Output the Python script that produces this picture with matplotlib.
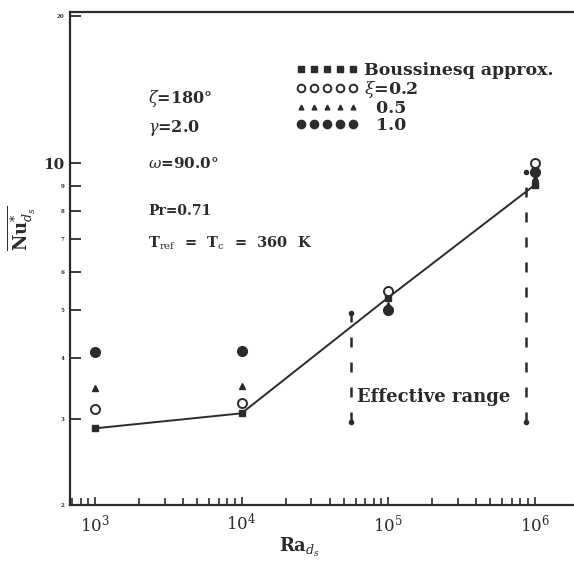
import matplotlib
matplotlib.use("Agg")
import matplotlib.pyplot as plt
from matplotlib.ticker import NullFormatter

# data
ra = [1e3, 1e4, 1e5, 1e6]
nu_bouss = [2.87, 3.08, 5.31, 9.02]
nu_xi02 = [3.14, 3.23, 5.48, 10.0]
nu_xi05 = [3.47, 3.51, 5.14, 9.32]
nu_xi10 = [4.12, 4.14, 5.00, 9.59]

range_ra = [5.6e4, 8.8e5]
range_lo = [2.95, 2.95]
range_hi = [4.94, 9.6]

yticks = [2, 3, 4, 5, 6, 7, 8, 9, 10, 20]
xticks = [1e3, 1e4, 1e5, 1e6]
xtick_labels = ["$10^3$", "$10^4$", "$10^5$", "$10^6$"]

ink = "#2b2b2b"
plt.rcParams["font.family"] = ["DejaVu Serif"]
plt.rcParams["mathtext.fontset"] = "dejavuserif"

fig = plt.figure(figsize=(5.74, 5.61), dpi=100)
ax = fig.add_axes([0.122, 0.0998, 0.878, 0.879])
ax.set_xscale("log")
ax.set_yscale("log")
ax.set_xlim(675, 1.86e6)
ax.set_ylim(2, 20.4)

ax.plot(ra, nu_bouss, "-", color=ink, lw=1.4, zorder=2)
ax.plot(ra, nu_bouss, "s", color=ink, ms=5, ls="none", zorder=3, label="Boussinesq approx.")
ax.plot(ra, nu_xi02, "o", mfc="white", mec=ink, mew=1.4, ms=6.5, ls="none", zorder=4, label="$\\xi$=0.2")
ax.plot(ra, nu_xi05, "^", color=ink, ms=4, ls="none", zorder=3, label="  0.5")
ax.plot(ra, nu_xi10, "o", color=ink, ms=7, ls="none", zorder=3, label="  1.0")

# effective range markers
for i in range(len(range_ra)):
    ax.plot([range_ra[i], range_ra[i]], [range_lo[i], range_hi[i]], color=ink,
            lw=1.8, ls=(0, (4, 6)), marker="o", ms=3, markevery=[0, 1], zorder=1)
ax.text(6.1e4, 3.33, "Effective range", fontsize=13, fontweight="bold", color=ink,
        va="center", ha="left")

# parameters
ax.text(0.155, 0.816, "$\\zeta$=180°", transform=ax.transAxes, fontsize=11.5, fontweight="bold", color=ink)
ax.text(0.155, 0.757, "$\\gamma$=2.0", transform=ax.transAxes, fontsize=11.5, fontweight="bold", color=ink)
ax.text(0.155, 0.683, "$\\omega$=90.0°", transform=ax.transAxes, fontsize=11, fontweight="bold", color=ink)
ax.text(0.155, 0.589, "Pr=0.71", transform=ax.transAxes, fontsize=10, fontweight="bold", color=ink)
ax.text(0.155, 0.523, "T$_{\\rm ref}$  =  T$_{\\rm c}$  =  360  K", transform=ax.transAxes,
        fontsize=10.5, fontweight="bold", color=ink)

leg = ax.legend(loc="upper left", bbox_to_anchor=(0.43, 0.915), frameon=False,
                numpoints=5, markerscale=0.85, handlelength=3.6, handletextpad=0.35,
                labelspacing=0.0, borderpad=0, prop={"size": 12.5, "weight": "bold"})
for t in leg.get_texts():
    t.set_color(ink)

# axes styling
for s in ["left", "bottom", "top"]:
    ax.spines[s].set_linewidth(1.6)
    ax.spines[s].set_color(ink)
ax.spines["right"].set_visible(False)

ax.set_yticks(yticks)
ax.set_yticklabels([str(v) for v in yticks])
ax.yaxis.set_minor_formatter(NullFormatter())
ax.tick_params(axis="y", which="major", direction="in", length=8, width=1.3, color=ink, pad=4)
ax.tick_params(axis="y", which="minor", length=0)
for lab in ax.get_yticklabels():
    if lab.get_text() == "10":
        lab.set_fontsize(11)
        lab.set_fontweight("bold")
    else:
        lab.set_fontsize(4)
        lab.set_fontweight("bold")
    lab.set_color(ink)

ax.set_xticks(xticks)
ax.set_xticklabels(xtick_labels, fontsize=12, color=ink)
ax.xaxis.set_minor_formatter(NullFormatter())
ax.tick_params(axis="x", which="major", direction="in", length=6, width=1.2, color=ink, pad=6)
ax.tick_params(axis="x", which="minor", direction="in", length=5, width=1.2, color=ink)
ax.tick_params(top=False, right=False, which="both")

ax.set_xlabel("Ra$_{d_s}$", fontsize=13, fontweight="bold", color=ink)
ax.xaxis.set_label_coords(0.456, -0.062)
ax.set_ylabel("$\\overline{\\mathbf{Nu}_{d_s}^{*}}$", fontsize=13, color=ink)
ax.yaxis.set_label_coords(-0.065, 0.56)

fig.savefig("out.png", dpi=100)
